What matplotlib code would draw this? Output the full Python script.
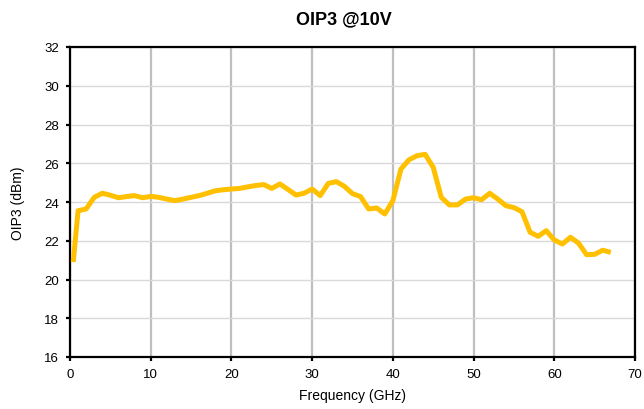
import matplotlib
matplotlib.use("Agg")
import matplotlib.pyplot as plt

plt.rcParams['font.family'] = ['Liberation Sans', 'DejaVu Sans']

# OIP3 at 10 V
freq_ghz = [0.4, 1, 2, 3, 4, 5, 6, 7, 8, 9, 10, 11, 12, 13, 14, 15, 16, 17,
            18, 19, 20, 21, 22, 23, 24, 25, 26, 27, 28, 29, 30, 31, 32, 33,
            34, 35, 36, 37, 38, 39, 40, 41, 42, 43, 44, 45, 46, 47, 48, 49,
            50, 51, 52, 53, 54, 55, 56, 57, 58, 59, 60, 61, 62, 63, 64, 65,
            66, 67]
oip3_dbm = [20.9, 23.55, 23.64, 24.24, 24.45, 24.35, 24.22, 24.28, 24.33,
            24.22, 24.29, 24.24, 24.15, 24.07, 24.15, 24.24, 24.33, 24.45,
            24.58, 24.63, 24.67, 24.7, 24.78, 24.85, 24.9, 24.7, 24.93, 24.65,
            24.36, 24.45, 24.67, 24.33, 24.96, 25.05, 24.81, 24.43, 24.28,
            23.64, 23.69, 23.38, 24.07, 25.7, 26.18, 26.39, 26.46, 25.79,
            24.24, 23.85, 23.85, 24.15, 24.22, 24.12, 24.45, 24.15, 23.81,
            23.71, 23.5, 22.44, 22.23, 22.52, 22.04, 21.83, 22.18, 21.88,
            21.28, 21.3, 21.51, 21.4]

x_ticks = list(range(0, 71, 10))
y_ticks = list(range(16, 33, 2))

fig = plt.figure(figsize=(6.44, 4.10), dpi=100)
ax = fig.add_axes([70 / 644, 52 / 410, 565 / 644, 310 / 410])

ax.plot(freq_ghz, oip3_dbm, color='#FFC000', lw=3.6, solid_joinstyle='round',
        solid_capstyle='butt', zorder=3)

ax.set_xlim(0, 70)
ax.set_ylim(16, 32)
ax.set_xticks(x_ticks)
ax.set_yticks(y_ticks)

# vertical gridlines darker than horizontal ones, like the original
ax.xaxis.grid(True, color='#BFBFBF', lw=1.6)
ax.yaxis.grid(True, color='#D9D9D9', lw=1.0)
ax.set_axisbelow(True)

for s in ax.spines.values():
    s.set_color('black')
    s.set_linewidth(1.6)

ax.tick_params(axis='both', direction='out', length=3, width=1.6,
               labelsize=9.5, color='black', pad=5)

ax.set_xlabel('Frequency (GHz)', fontsize=10, labelpad=6)
ax.set_ylabel('OIP3 (dBm)', fontsize=10, labelpad=14)

fig.text(344 / 644, 1 - 20 / 410, 'OIP3 @10V', ha='center', va='center',
         fontsize=13, weight='bold')

fig.savefig('out.png', dpi=100)
